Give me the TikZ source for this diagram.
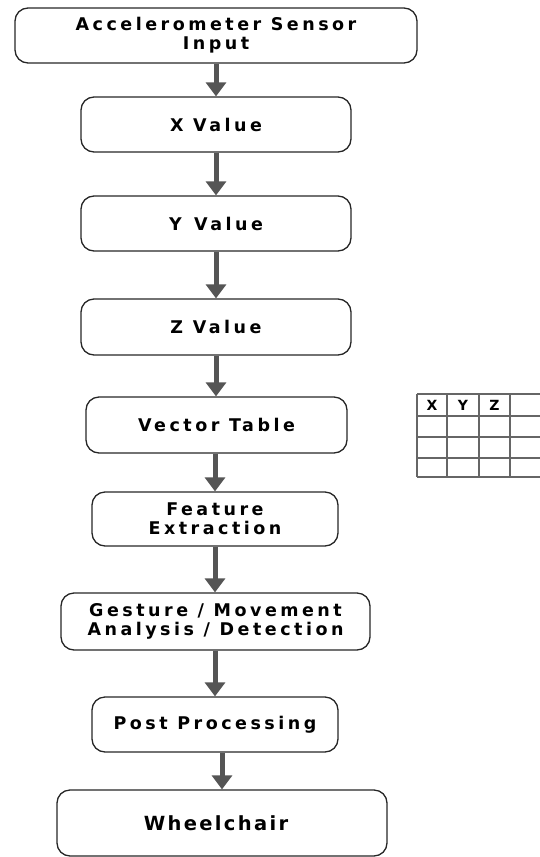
\documentclass[tikz,border=0pt]{standalone}
\usepackage{fontspec}
\usetikzlibrary{arrows.meta}
\newfontfamily\boxfont[LetterSpace=20]{DejaVu Sans Bold}
\newfontfamily\wheelfont[LetterSpace=12]{DejaVu Sans Bold}
\newfontfamily\cellfont{DejaVu Sans Bold}
\definecolor{arrowgray}{HTML}{555555}
\definecolor{gridgray}{HTML}{666666}
\begin{document}
\begin{tikzpicture}[x=1pt,y=-1pt,
  stepbox/.style={draw=black!85, line width=1.3pt, rounded corners=13pt,
    align=center, inner sep=0pt, font=\boxfont\fontsize{17.5}{19}\selectfont},
  flow/.style={draw=arrowgray, line width=5pt,
    -{Triangle[width=20pt,length=14pt]}, shorten >=0pt},
  cell/.style={font=\cellfont\fontsize{14}{14}\selectfont, inner sep=0pt}]
\useasboundingbox (0,0) rectangle (539,857);

% processing chain
\node[stepbox, minimum width=402pt, minimum height=55pt] (b1) at (216,35.5) {Accelerometer Sensor\\Input};
\node[stepbox, minimum width=270pt, minimum height=55pt] (b2) at (216,124.5) {X Value};
\node[stepbox, minimum width=270pt, minimum height=55pt] (b3) at (216,223.5) {Y\ \,Value};
\node[stepbox, minimum width=270pt, minimum height=56pt] (b4) at (216,327) {Z Value};
\node[stepbox, minimum width=261pt, minimum height=56pt] (b5) at (216.5,425) {Vector Table};
\node[stepbox, minimum width=246pt, minimum height=54pt] (b6) at (215,519) {Feature\\Extraction};
\node[stepbox, minimum width=309pt, minimum height=57pt] (b7) at (215.5,621.5) {Gesture / Movement\\Analysis / Detection};
\node[stepbox, minimum width=246pt, minimum height=55pt] (b8) at (215,724.5) {Post Processing};
\node[stepbox, minimum width=330pt, minimum height=66pt, font=\wheelfont\fontsize{19.5}{20}\selectfont] (b9) at (222,823) {\hspace*{-12pt}Wheelchair};

% arrows between the steps
\draw[flow] (b1.south -| b2.north) -- (b2.north);
\draw[flow] (b2.south) -- (b3.north);
\draw[flow] (b3.south) -- (b4.north);
\draw[flow] (b4.south) -- (b5.north -| b4.south);
\draw[flow] (b5.south -| b6.north) -- (b6.north);
\draw[flow] (b6.south) -- (b7.north -| b6.south);
\draw[flow] (b7.south -| b8.north) -- (b8.north);
\draw[flow] (b8.south -| b9.north) -- (b9.north);

% vector table sketch
\draw[gridgray, line width=1.8pt]
  (417,394) -- (542,394) (417,416) -- (542,416) (417,437) -- (542,437)
  (417,458) -- (542,458) (417,477) -- (542,477)
  (417,394) -- (417,477) (447,394) -- (447,477) (479,394) -- (479,477)
  (510,394) -- (510,477);
\node[cell] (cx) at (432,405) {X};
\node[cell] (cy) at (463,405.5) {Y};
\node[cell] (cz) at (494.5,405) {Z};
\end{tikzpicture}
\end{document}
